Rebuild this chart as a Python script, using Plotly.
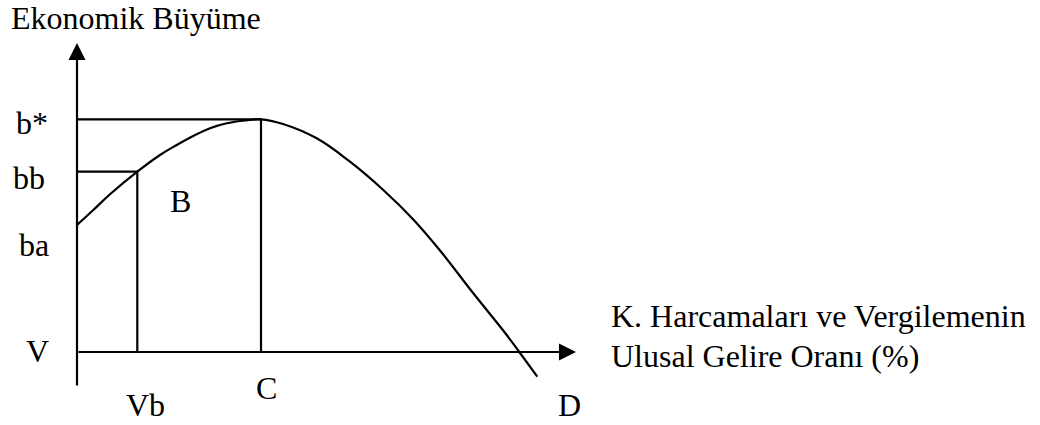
import plotly.graph_objects as go

# Curve (Armey curve): x = share of spending/taxation, y = growth
curve_x = [0, 16.3, 33, 60.3, 83, 99.7, 116.3, 133, 149.7, 166.3, 184, 206, 239.7, 273, 306.3,
           336.3, 363, 396.3, 429.7, 442.3, 460.3]
curve_y = [127, 142, 157.7, 180.3, 197, 207, 216, 223.7, 228.7, 231.3, 232.7, 228, 213.7, 190.3, 162,
           132.5, 101.5, 58.7, 17, 0, -24.7]

# Key levels
x_vb = 60.3      # Vb
x_c = 184        # C (optimum)
y_bb = 180.3     # bb
y_bstar = 232.7  # b*

# Axis extents
x_axis_end = 499
y_axis_top = 309
y_axis_bottom = -35

# Labels: text, x, y
labels = [
    ("Ekonomik Büyüme", -67, 334),
    ("b*", -62, 229.5),
    ("bb", -65, 174.5),
    ("ba", -59, 107.5),
    ("V", -52, 1),
    ("Vb", 48, -52.5),
    ("C", 178, -35.5),
    ("B", 92, 151),
    ("D", 480, -52.5),
    ("K. Harcamaları ve Vergilemenin", 533, 36),
    ("Ulusal Gelire Oranı (%)", 533, -4),
]

LW = 2.2
BLACK = "#000000"
FONT = "'Liberation Serif', 'Times New Roman', serif"

fig = go.Figure()

# Guide lines
fig.add_trace(go.Scatter(
    x=[0, x_c, x_c], y=[y_bstar, y_bstar, 0], mode="lines",
    line=dict(color=BLACK, width=LW), hoverinfo="skip", showlegend=False))
fig.add_trace(go.Scatter(
    x=[0, x_vb, x_vb], y=[y_bb, y_bb, 0], mode="lines",
    line=dict(color=BLACK, width=LW), hoverinfo="skip", showlegend=False))

# Curve
fig.add_trace(go.Scatter(
    x=curve_x, y=curve_y, mode="lines",
    line=dict(color=BLACK, width=LW, shape="spline", smoothing=1.1),
    hoverinfo="skip", showlegend=False))

# Axes drawn as arrows
fig.add_annotation(x=0, y=y_axis_top, ax=0, ay=y_axis_bottom, xref="x", yref="y",
                   axref="x", ayref="y", text="", showarrow=True, arrowhead=2,
                   arrowsize=1.55, arrowwidth=LW, arrowcolor=BLACK, standoff=0, startstandoff=0)
fig.add_annotation(x=x_axis_end, y=0, ax=0, ay=0, xref="x", yref="y",
                   axref="x", ayref="y", text="", showarrow=True, arrowhead=2,
                   arrowsize=1.55, arrowwidth=LW, arrowcolor=BLACK, standoff=0, startstandoff=0)

for text, lx, ly in labels:
    fig.add_annotation(
        x=lx, y=ly, xref="x", yref="y", text=text, showarrow=False,
        xanchor="left", yanchor="middle", borderpad=0,
        font=dict(family=FONT, size=32, color=BLACK))

fig.update_layout(
    width=1040, height=425,
    margin=dict(l=0, r=0, t=0, b=0),
    paper_bgcolor="white", plot_bgcolor="white",
    font=dict(family=FONT),
    xaxis=dict(range=[-77, 963], visible=False, fixedrange=True),
    yaxis=dict(range=[-73, 352], visible=False, fixedrange=True),
)

fig.write_html("out.html", config={"displayModeBar": False},
               post_script="document.body.style.margin='0';document.body.style.padding='0';")
